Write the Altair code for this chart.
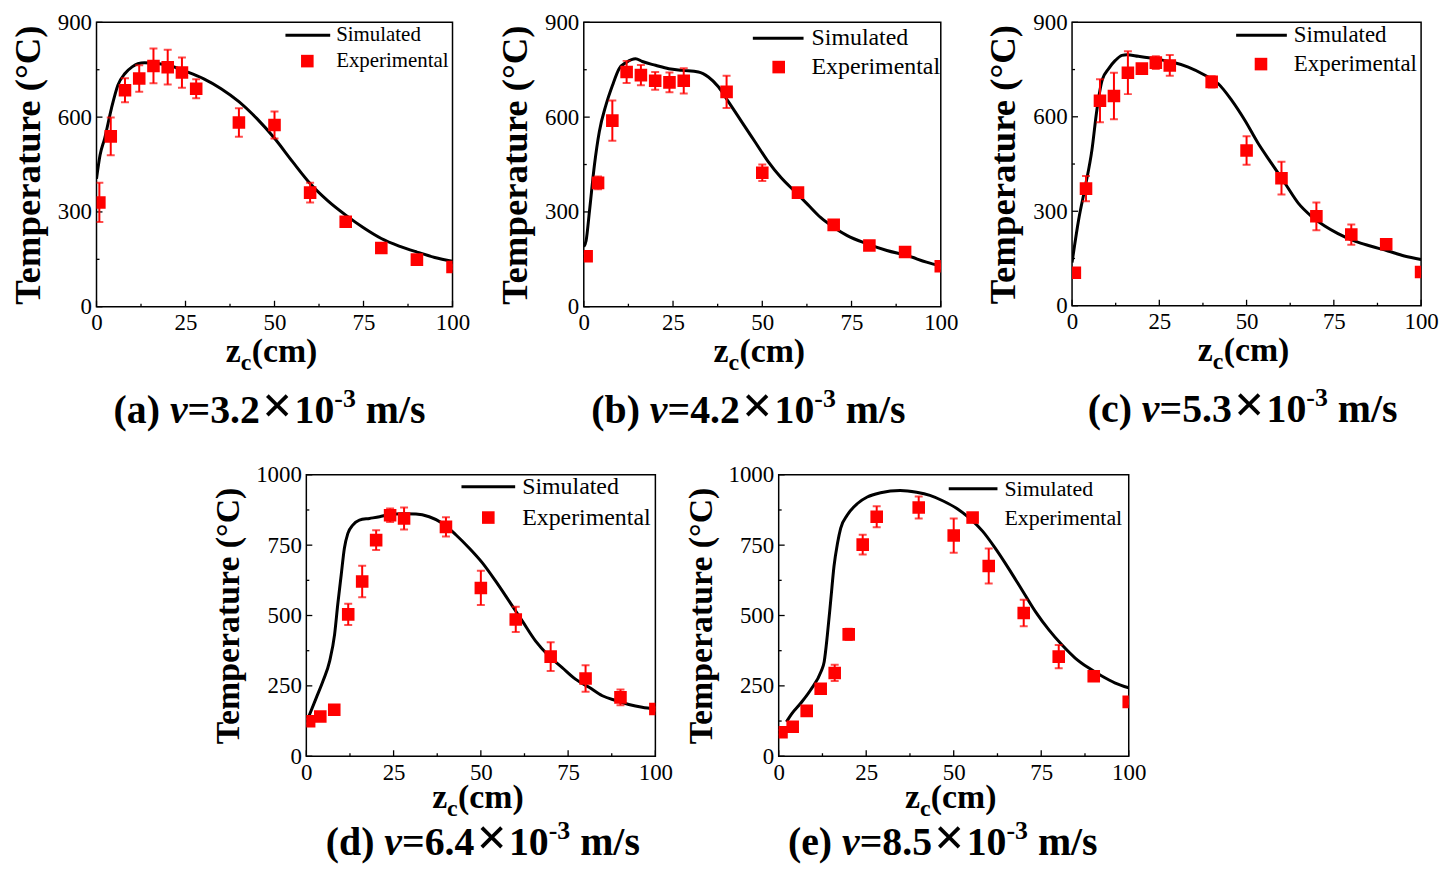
import altair as alt
import pandas as pd

FONT = "Liberation Serif"
RED = "#ff0000"

# measurement positions along the column (cm)
z_exp = [0.8, 4, 8, 12, 16, 20, 24, 28, 40, 50, 60, 70, 80, 90, 100]

# (a) v = 3.2e-3 m/s
a_exp = [330, 539, 685, 722, 762, 758, 741, 690, 583, 575, 361, 269, 186, 149, 126]
a_err = [62, 60, 38, 42, 55, 55, 48, 30, 45, 43, 31, 8, 8, 8, 8]
a_sim_z = [0, 1, 2.3, 4.2, 6, 8, 10, 11.6, 13.5, 17, 20, 25, 30, 35, 40, 45, 50, 55, 60,
           65, 70, 75, 80, 85, 90, 95, 100]
a_sim_t = [405, 480, 533, 628, 701, 738, 759, 769, 772, 770, 765, 745, 722, 690, 649, 596,
           533, 460, 390, 335, 290, 250, 216, 192, 173, 156, 144]

# (b) v = 4.2e-3 m/s
b_exp = [160, 392, 589, 743, 733, 715, 710, 715, 680, 424, 361, 259, 194, 173, 128]
b_err = [8, 20, 64, 35, 32, 28, 31, 40, 51, 26, 15, 8, 8, 8, 8]
b_sim_z = [0, 0.65, 1.6, 3.0, 4.35, 6.2, 8.05, 9.9, 12.0, 14.5, 16.4, 20.1, 23.8, 27.5, 32.1,
           34.9, 37.7, 40.5, 44.2, 47.9, 51.6, 55.3, 59.0, 62.7, 66.4, 70.1, 73.8, 79.4,
           84.9, 90.5, 96.0, 100]
b_sim_t = [190, 209, 303, 450, 554, 638, 701, 753, 774, 785, 776, 764, 753, 748, 743, 727,
           696, 649, 586, 523, 460, 408, 366, 324, 282, 251, 225, 199, 178, 162, 141, 128]

# (c) v = 5.3e-3 m/s
c_exp = [105, 372, 651, 666, 740, 753, 772, 763, 711, 493, 405, 284, 226, 195, 107]
c_err = [15, 40, 68, 74, 68, 12, 20, 33, 18, 45, 52, 44, 32, 8, 8]
c_sim_z = [0, 1.9, 3.8, 5.7, 7.1, 8.6, 10.5, 12.4, 14.3, 15.7, 19.0, 23.8, 28.6, 33.3, 38.1,
           41.9, 45.7, 49.5, 53.3, 57.1, 61.0, 64.8, 68.6, 72.4, 76.2, 81.0, 85.7, 90.5,
           95.2, 100]
c_sim_t = [137, 274, 379, 495, 621, 716, 753, 779, 795, 797, 792, 784, 774, 758, 732, 705,
           653, 589, 516, 453, 389, 326, 284, 253, 229, 205, 189, 174, 158, 147]

# (d) v = 6.4e-3 m/s
d_exp = [124, 141, 165, 504, 621, 768, 856, 845, 815, 598, 486, 354, 276, 209, 168]
d_err = [8, 8, 8, 38, 56, 35, 24, 39, 34, 61, 45, 51, 47, 28, 8]
d_sim_z = [0.5, 2.9, 4.8, 6.7, 8.1, 9.0, 10.0, 10.9, 11.9, 13.3, 15.2, 18.1, 21.0, 23.8,
           27.6, 31.4, 35.2, 39.0, 42.9, 46.7, 50.5, 54.3, 58.1, 61.9, 65.7, 69.5, 73.3,
           77.1, 81.0, 84.8, 88.6, 92.4, 96.2, 100]
d_sim_t = [135, 209, 268, 339, 433, 539, 645, 739, 792, 821, 839, 845, 851, 859, 862, 861,
           851, 828, 786, 739, 686, 621, 551, 480, 409, 356, 315, 274, 245, 215, 198, 184,
           174, 168]

# (e) v = 8.5e-3 m/s
e_exp = [85, 105, 161, 240, 296, 433, 752, 851, 884, 784, 676, 509, 354, 284, 193]
e_err = [8, 8, 8, 8, 29, 20, 35, 37, 39, 61, 62, 47, 41, 12, 8]
e_sim_z = [2.2, 3.6, 6.4, 9.2, 12.1, 13.0, 13.9, 14.9, 15.8, 16.8, 17.7, 19.6, 22.5, 25.3,
           29.1, 34.7, 39.4, 43.2, 47.0, 50.8, 54.5, 58.3, 62.1, 65.8, 69.6, 73.4, 77.2,
           80.9, 84.7, 88.5, 92.3, 96.0, 100]
e_sim_t = [122, 149, 190, 237, 301, 336, 430, 558, 675, 757, 810, 857, 898, 921, 936, 944,
           938, 927, 907, 881, 846, 799, 735, 665, 589, 513, 449, 396, 349, 314, 285, 261, 243]

# axis ticks
x_major = [0, 25, 50, 75, 100]
x_minor = [12.5, 37.5, 62.5, 87.5]
t900_major = [0, 300, 600, 900]
t900_minor = [150, 450, 750]
t1000_major = [0, 250, 500, 750, 1000]
t1000_minor = [125, 375, 625, 875]

letter_em = {"a": 0.5, "b": 0.556, "c": 0.444, "d": 0.556, "e": 0.444}

one = pd.DataFrame({"k": [0]})


def label(text, x, y, size, weight="bold", style="normal", align="left", baseline="alphabetic"):
    return alt.Chart(one).mark_text(
        font=FONT, fontSize=size, fontWeight=weight, fontStyle=style,
        align=align, baseline=baseline, color="black"
    ).encode(x=alt.value(x), y=alt.value(y), text=alt.value(text))


def panel(letter, coef, exp, err, sim_z, sim_t, ymax, ymaj, ymin, w, h, leg, ytfs, xt_dy, cap_dy, cap_dx):
    xs = alt.Scale(domain=[0, 100], nice=False, zero=False)
    ys = alt.Scale(domain=[0, ymax], nice=False)
    x_axis = alt.Axis(values=x_major, ticks=False, domain=False, grid=False,
                      labelFont=FONT, labelFontSize=23, labelColor="black",
                      labelPadding=5, labelFlush=False, title=None)
    y_axis = alt.Axis(values=ymaj, format="d", ticks=False, domain=False, grid=False,
                      labelFont=FONT, labelFontSize=23, labelColor="black",
                      labelPadding=5, title="Temperature (°C)", titleFont=FONT,
                      titleFontSize=ytfs, titleFontWeight="bold", titleColor="black",
                      titlePadding=10)

    def X(f="z"):
        return alt.X(f"{f}:Q", scale=xs, axis=x_axis)

    def Y(f="T"):
        return alt.Y(f"{f}:Q", scale=ys, axis=y_axis)

    sim = pd.DataFrame({"z": sim_z, "T": sim_t})
    df = pd.DataFrame({"z": z_exp, "T": exp})
    df["lo"] = df["T"] - pd.Series(err)
    df["hi"] = df["T"] + pd.Series(err)

    layers = []
    # inward ticks
    for vals, ln in ((x_major, 6), (x_minor, 3)):
        layers.append(alt.Chart(pd.DataFrame({"z": vals})).mark_rule(color="black", strokeWidth=1.3)
                      .encode(x=X(), y=alt.value(h), y2=alt.value(h - ln)))
    for vals, ln in ((ymaj, 6), (ymin, 3)):
        layers.append(alt.Chart(pd.DataFrame({"T": vals})).mark_rule(color="black", strokeWidth=1.3)
                      .encode(y=Y(), x=alt.value(0), x2=alt.value(ln)))

    layers.append(alt.Chart(sim).mark_line(color="black", strokeWidth=3, clip=True,
                                           interpolate="monotone").encode(x=X(), y=Y()))
    layers.append(alt.Chart(df).mark_rule(color=RED, strokeWidth=2, clip=True)
                  .encode(x=X(), y=Y("lo"), y2="hi:Q"))
    for f in ("lo", "hi"):
        layers.append(alt.Chart(df).mark_tick(color=RED, orient="horizontal", size=8,
                                              thickness=2, clip=True).encode(x=X(), y=Y(f)))
    layers.append(alt.Chart(df).mark_square(color=RED, filled=True, opacity=1, size=160, clip=True)
                  .encode(x=X(), y=Y()))

    # legend
    lx1, lx2, ly, sqx, sqy, tx, lfs = leg
    layers.append(alt.Chart(one).mark_rule(color="black", strokeWidth=3)
                  .encode(x=alt.value(lx1), x2=alt.value(lx2), y=alt.value(ly)))
    layers.append(alt.Chart(one).mark_square(color=RED, filled=True, opacity=1, size=160)
                  .encode(x=alt.value(sqx), y=alt.value(sqy)))
    layers.append(label("Simulated", tx, ly, lfs, weight="normal", baseline="middle"))
    layers.append(label("Experimental", tx, sqy, lfs, weight="normal", baseline="middle"))

    # x title z_c(cm)
    cx = w / 2 - 3
    x0 = cx - 46
    yb = h + xt_dy + 9
    layers.append(label("z", x0, yb, 34))
    layers.append(label("c", x0 + 15, yb + 8, 24))
    layers.append(label("(cm)", x0 + 26, yb, 34))

    # caption
    F = 40
    parts = [
        (f"({letter})", F, "normal", 0, (0.333 + letter_em[letter] + 0.333 + 0.25) * F),
        ("v", F, "italic", 0, 0.444 * F),
        ("=" + coef, F, "normal", 0, (0.57 + 0.5 + 0.25 + 0.5) * F),
        ("×", 54, "normal", 0, 0.57 * 54 + 4),
        ("10", F, "normal", 0, 1.0 * F),
        ("-3", 26, "normal", -16, 0.833 * 26 + 0.25 * F),
        ("m/s", F, "normal", 0, 1.5 * F),
    ]
    total = sum(p[4] for p in parts)
    px = w / 2 + cap_dx - total / 2
    cb = h + cap_dy + 13
    for text, size, style, dy, wd in parts:
        off = 2 if text == "×" else 0
        layers.append(label(text, px + off, cb + dy, size, style=style))
        px += wd

    return alt.layer(*layers).properties(
        width=w, height=h,
        view=alt.ViewBackground(stroke="black", strokeWidth=1.5, fill="white"),
    )


pa = panel("a", "3.2", a_exp, a_err, a_sim_z, a_sim_t, 900, t900_major, t900_minor,
           358, 286, (190, 235, 13, 212, 39, 241, 21), 37, 47, 104, -5)
pb = panel("b", "4.2", b_exp, b_err, b_sim_z, b_sim_t, 900, t900_major, t900_minor,
           359, 286, (170, 221, 16, 196, 45, 229, 24), 37, 47, 104, -14)
pc = panel("c", "5.3", c_exp, c_err, c_sim_z, c_sim_t, 900, t900_major, t900_minor,
           351, 285, (165, 216, 13, 190, 42, 223, 23), 37, 47, 104, -4)
pd_ = panel("d", "6.4", d_exp, d_err, d_sim_z, d_sim_t, 1000, t1000_major, t1000_minor,
            351, 283, (156, 210, 12, 183, 43, 217, 24), 34, 43, 86, 2)
pe = panel("e", "8.5", e_exp, e_err, e_sim_z, e_sim_t, 1000, t1000_major, t1000_minor,
           352, 283, (171, 220, 14, 195, 43, 227, 22), 34, 43, 86, -11)

spacer = alt.Chart(one).mark_point(opacity=0).encode(
    x=alt.value(0), y=alt.value(0)
).properties(width=87, height=10, view=alt.ViewBackground(stroke="transparent"))

top = alt.hconcat(pa, pb, pc, spacing=132, bounds="flush")
bottom = alt.hconcat(spacer, pd_, pe, spacing=124, bounds="flush")

chart = alt.vconcat(top, bottom, spacing=28).properties(
    padding=0, background="white"
)

chart.save("out.html", embed_options={"renderer": "svg", "actions": False})
